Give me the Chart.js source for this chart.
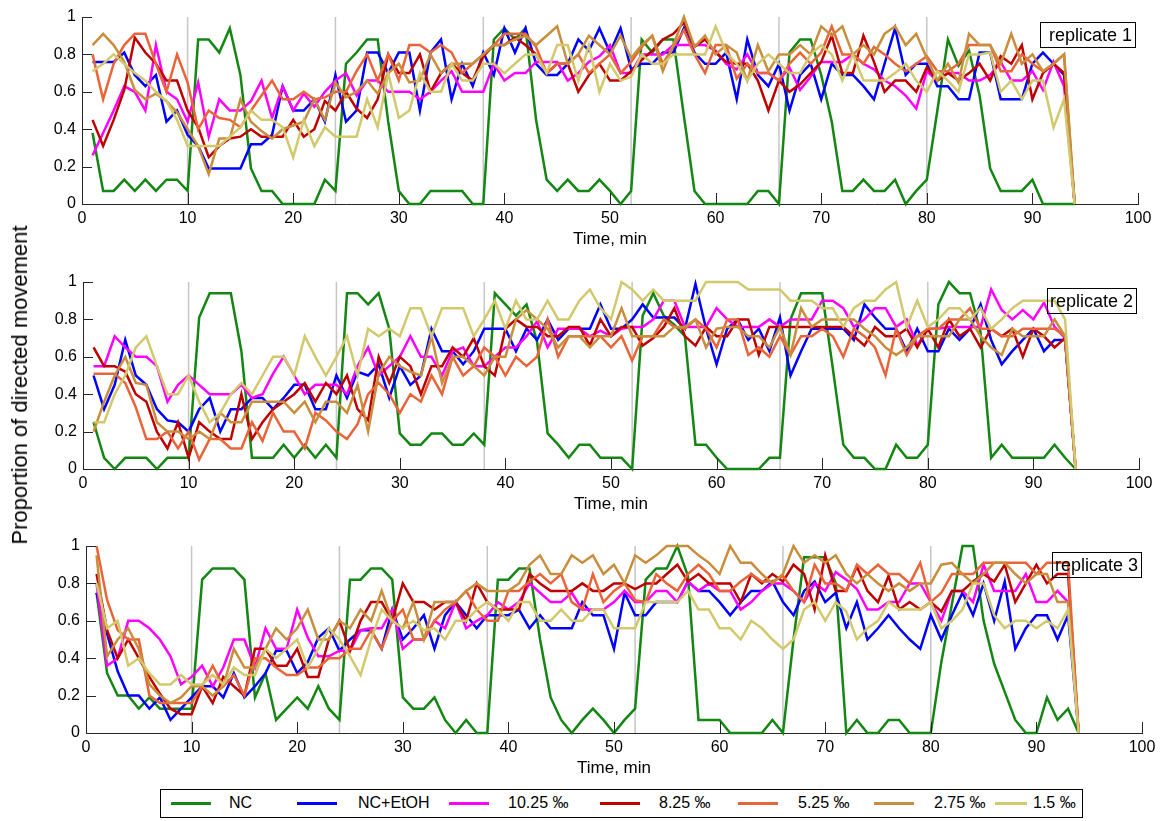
<!DOCTYPE html>
<html>
<head>
<meta charset="utf-8">
<script src="https://cdn.jsdelivr.net/npm/chart.js@4.4.0/dist/chart.umd.min.js"></script>
<style>
    body { margin: 0; background: #fff; width: 1164px; height: 821px; position: relative; overflow: hidden;
           font-family: "Liberation Sans", Arial, sans-serif; color: #000; }
    canvas { position: absolute; left: 0; }
    .rep { position: absolute; border: 1px solid #000; font-size: 18px; line-height: 24px; height: 24px; white-space: nowrap; }
    #ylab { position: absolute; left: 20px; top: 385px; transform: translate(-50%, -50%) rotate(-90deg);
            font-size: 22px; white-space: nowrap; }
    #legend { position: absolute; left: 160px; top: 789px; width: 921px; height: 27px; border: 1px solid #000; background: #fff; }
    .lg-line { position: absolute; top: 12px; height: 3px; }
    .lg-text { position: absolute; top: 4px; font-size: 16px; white-space: nowrap; }
</style>
</head>
<body>
<canvas id="rep1" width="1164" height="250" style="top:0px"></canvas>
<canvas id="rep2" width="1164" height="250" style="top:265px"></canvas>
<canvas id="rep3" width="1164" height="250" style="top:529px"></canvas>
<div class="rep" style="left:1040px; top:22px; width:94px; padding-left:0; text-indent:8px;">replicate 1</div>
<div class="rep" style="left:1047px; top:288px; width:88px; text-indent:2px;">replicate 2</div>
<div class="rep" style="left:1052px; top:552px; width:88px; text-indent:2px;">replicate 3</div>
<div id="ylab">Proportion of directed movement</div>
<div id="legend"></div>
<script>
// Séries e rótulos
const seriesNames = ['NC', 'NC+EtOH', '10.25 ‰', '8.25 ‰', '5.25 ‰', '2.75 ‰', '1.5 ‰'];
const seriesColors = ['#138613', '#0000ff', '#ff00ff', '#bf0000', '#ea6439', '#c88e3c', '#d2c86c'];
const xTicks = [0, 10, 20, 30, 40, 50, 60, 70, 80, 90, 100];
const yTicks = [0, 0.2, 0.4, 0.6, 0.8, 1];
const yTickLabels = ['0', '0.2', '0.4', '0.6', '0.8', '1'];
const stimulusMarks = [10, 24, 38, 52, 66, 80];
const minutes = Array.from({length: 94}, (_, i) => i + 1);

// replicate 1
const rep1NC = [
    .38,.07,.07,.13,.07,.13,.07,.13,.13,.07, .88,.88,.81,.94,.69,.19,.07,.07,0,0,
    0,0,.13,.07,.75,.81,.88,.88,.44,.07, 0,0,.07,.07,.07,.07,0,0,.88,.94,
    .88,.94,.45,.13,.07,.13,.07,.07,.13,.07, 0,.07,.88,.81,.88,.88,.47,.07,0,0,
    0,0,0,.07,.07,0,.81,.88,.88,.69, .44,.07,.07,.13,.07,.07,.13,0,.07,.13,
    .5,.88,.74,.82,.58,.19,.07,.07,.07,.13, 0,0,0,0];
const rep1EtOH = [
    .76,.76,.76,.81,.69,.63,.69,.44,.5,.37, .31,.19,.19,.19,.19,.32,.32,.37,.63,.5,
    .5,.56,.44,.69,.44,.5,.81,.81,.7,.81, .81,.5,.81,.88,.56,.75,.63,.81,.69,.94,
    .81,.94,.75,.69,.69,.75,.88,.82,.94,.81, .94,.72,.75,.75,.81,.81,.94,.81,.75,.75,
    .81,.56,.88,.69,.63,.75,.5,.69,.75,.56, .75,.69,.69,.63,.56,.75,.94,.69,.75,.75,
    .63,.63,.56,.56,.81,.81,.56,.56,.56,.75, .81,.75,.69,0];
const rep1C1025 = [
    .26,.38,.5,.63,.6,.5,.85,.6,.56,.44, .65,.36,.56,.5,.5,.55,.66,.46,.63,.5,
    .59,.52,.6,.66,.7,.58,.66,.66,.6,.6, .6,.56,.6,.66,.71,.6,.6,.6,.75,.66,
    .7,.7,.76,.76,.76,.66,.7,.76,.79,.85, .7,.7,.8,.8,.8,.85,.85,.85,.85,.82,
    .75,.72,.8,.7,.7,.66,.73,.61,.68,.76, .76,.76,.8,.75,.72,.66,.63,.58,.51,.71,
    .66,.7,.7,.66,.66,.69,.76,.66,.66,.71, .61,.76,.63,0];
const rep1C825 = [
    .45,.31,.45,.61,.89,.81,.75,.66,.66,.5, .41,.25,.31,.35,.36,.4,.36,.36,.36,.45,
    .36,.4,.55,.5,.6,.51,.46,.56,.8,.7, .7,.8,.6,.7,.75,.7,.66,.79,.85,.85,
    .89,.85,.8,.7,.75,.75,.6,.69,.75,.66, .66,.71,.77,.82,.88,.91,.97,.84,.88,.81,
    .76,.75,.75,.66,.5,.66,.6,.64,.7,.76, .9,.7,.7,.9,.76,.6,.66,.66,.6,.73,
    .66,.7,.66,.7,.75,.66,.79,.75,.85,.56, .7,.75,.7,0];
const rep1C525 = [
    .8,.56,.75,.85,.91,.91,.75,.6,.8,.65, .4,.5,.46,.45,.41,.5,.58,.66,.56,.56,
    .6,.56,.57,.6,.6,.71,.8,.66,.8,.66, .85,.85,.81,.85,.81,.7,.75,.8,.85,.91,
    .91,.91,.84,.7,.75,.75,.8,.7,.75,.8, .7,.76,.84,.9,.75,.84,.93,.8,.7,.85,
    .85,.67,.75,.7,.7,.66,.75,.81,.75,.81, .95,.8,.8,.75,.84,.8,.75,.71,.75,.79,
    .71,.71,.75,.85,.85,.85,.71,.71,.8,.75, .71,.75,.8,0];
const rep1C275 = [
    .85,.91,.85,.76,.61,.56,.59,.55,.49,.4, .31,.16,.35,.35,.56,.44,.39,.35,.4,.42,
    .44,.56,.45,.65,.57,.6,.66,.59,.7,.75, .65,.66,.8,.7,.75,.75,.75,.8,.85,.85,
    .88,.9,.85,.9,.95,.75,.8,.9,.85,.8, .9,.78,.85,.9,.71,.85,1,.84,.9,.8,
    .85,.81,.66,.85,.71,.8,.8,.85,.8,.95, .9,.95,.8,.85,.8,.91,.95,.85,.91,.78,
    .66,.75,.65,.91,.85,.85,.75,.91,.75,.8, .71,.75,.8,0];
const rep1C15 = [
    .71,.75,.8,.75,.7,.66,.6,.55,.45,.31, .31,.31,.31,.36,.41,.5,.45,.45,.41,.25,
    .45,.31,.41,.36,.36,.36,.56,.41,.7,.46, .5,.7,.6,.6,.75,.66,.66,.75,.75,.7,
    .75,.8,.8,.7,.85,.85,.66,.85,.6,.75, .66,.68,.8,.75,.75,.8,.8,.8,.8,.95,
    .81,.75,.66,.75,.8,.75,.7,.7,.8,.85, .8,.66,.8,.66,.66,.66,.7,.75,.66,.6,
    .71,.66,.6,.8,.8,.81,.6,.66,.56,.66, .66,.41,.56,0];

// replicate 2
const rep2NC = [
    .25,.06,0,.06,.06,.06,0,.06,.06,.06, .81,.94,.94,.94,.63,.06,.06,.06,.13,.06,
    .13,.06,.13,.06,.94,.94,.88,.94,.75,.19, .13,.13,.19,.19,.13,.13,.19,.13,.94,.88,
    .82,.88,.68,.19,.13,.06,.13,.13,.06,.06, .06,0,.82,.94,.82,.77,.71,.13,.13,.06,
    0,0,0,0,.06,.06,.8,.94,.94,.94, .54,.13,.06,.06,0,0,.13,.06,.06,.13,
    .88,1,.94,.94,.73,.06,.13,.06,.06,.06, .06,.13,.06,0];
const rep2EtOH = [
    .5,.32,.45,.69,.5,.45,.32,.26,.25,.2, .32,.38,.2,.32,.32,.38,.38,.32,.38,.45,
    .45,.32,.32,.5,.38,.52,.5,.56,.38,.55, .45,.5,.75,.63,.63,.56,.63,.75,.75,.75,
    .63,.75,.69,.8,.69,.75,.75,.75,.88,.75, .75,.8,.88,.81,.81,.81,.75,.99,.75,.56,
    .75,.8,.69,.75,.63,.81,.5,.63,.75,.75, .75,.75,.69,.88,.81,.75,.75,.63,.75,.63,
    .63,.75,.69,.75,.88,.69,.56,.63,.69,.75, .63,.69,.69,0];
const rep2C1025 = [
    .55,.55,.71,.65,.6,.6,.55,.36,.45,.5, .45,.4,.4,.4,.45,.38,.4,.51,.6,.5,
    .4,.45,.45,.45,.4,.55,.65,.5,.55,.6, .71,.6,.6,.5,.63,.65,.55,.55,.6,.65,
    .65,.71,.79,.65,.75,.75,.75,.71,.74,.71, .75,.76,.76,.8,.9,.9,.76,.76,.76,.86,
    .8,.76,.76,.76,.8,.76,.8,.8,.8,.9, .9,.86,.76,.8,.86,.86,.76,.8,.66,.75,
    .75,.76,.76,.76,.76,.96,.85,.8,.85,.8, .89,.76,.7,0];
const rep2C825 = [
    .65,.55,.55,.52,.4,.36,.2,.11,.25,.06, .25,.2,.16,.16,.4,.16,.25,.32,.36,.4,
    .46,.36,.46,.4,.5,.32,.26,.6,.46,.6, .55,.4,.55,.55,.65,.6,.7,.55,.5,.75,
    .8,.76,.76,.71,.71,.76,.76,.66,.8,.71, .76,.76,.66,.7,.76,.86,.71,.66,.76,.71,
    .71,.8,.8,.61,.76,.76,.76,.76,.76,.76, .76,.76,.71,.66,.76,.71,.71,.75,.65,.75,
    .65,.8,.71,.75,.65,.75,.71,.75,.6,.75, .71,.65,.7,0];
const rep2C525 = [
    .51,.51,.51,.46,.33,.16,.16,.2,.11,.2, .05,.16,.16,.11,.11,.25,.15,.3,.2,.2,
    .11,.3,.26,.2,.16,.24,.4,.46,.4,.3, .4,.36,.5,.4,.6,.5,.55,.65,.6,.5,
    .6,.55,.6,.8,.6,.71,.71,.71,.71,.65, .71,.58,.71,.71,.8,.76,.75,.8,.75,.65,
    .8,.8,.61,.65,.6,.71,.61,.71,.71,.75, .71,.6,.75,.71,.65,.5,.75,.61,.71,.75,
    .75,.8,.8,.86,.75,.75,.71,.71,.75,.75, .75,.75,.71,0];
const rep2C275 = [
    .2,.36,.5,.6,.46,.45,.25,.2,.2,.16, .2,.16,.3,.25,.25,.36,.36,.36,.36,.3,
    .36,.25,.36,.36,.3,.45,.2,.51,.6,.55, .52,.5,.71,.46,.6,.6,.55,.5,.6,.6,
    .8,.85,.8,.75,.65,.71,.71,.65,.71,.71, .86,.71,.71,.71,.71,.76,.76,.8,.65,.75,
    .76,.76,.71,.71,.65,.76,.61,.86,.76,.8, .8,.8,.8,.75,.71,.65,.61,.65,.71,.71,
    .71,.71,.8,.8,.71,.65,.61,.75,.71,.71, .71,.8,.71,0];
const rep2C15 = [
    .25,.25,.4,.5,.65,.71,.55,.4,.4,.5, .36,.25,.3,.4,.46,.4,.5,.6,.6,.5,
    .71,.6,.5,.6,.71,.5,.75,.71,.75,.71, .86,.86,.71,.86,.86,.86,.71,.8,.9,.75,
    .9,.8,.8,.9,.8,.8,.9,.96,.86,.8, 1,.96,.9,.96,.9,.9,.9,.9,1,1,
    1,1,.96,.96,.96,.96,.9,.9,.9,.86, .86,.76,.86,.9,.9,.96,1,.76,.9,.76,
    .8,.86,.86,.8,.86,.75,.8,.86,.9,.9, .9,.9,.8,0];

// replicate 3
const rep3NC = [
    .75,.32,.2,.2,.13,.19,.13,.13,.13,.13, .82,.88,.88,.88,.82,.19,.32,.07,.13,.19,
    .13,.25,.13,.07,.82,.82,.88,.88,.82,.19, .13,.13,.19,.07,0,.07,0,0,.82,.82,
    .88,.88,.5,.19,.07,0,.07,.13,.07,0, .07,.13,.82,.88,.88,1,.84,.07,.07,.07,
    0,0,0,0,.07,0,.5,.94,.94,.94, .8,0,.07,0,0,.07,.07,0,0,0,
    .38,.69,1,1,.6,.37,.22,.07,0,0, .19,.07,.13,0];
const rep3EtOH = [
    .75,.53,.33,.2,.2,.13,.19,.07,.13,.19, .25,.25,.19,.32,.19,.25,.32,.44,.44,.32,
    .38,.51,.56,.44,.5,.55,.55,.45,.66,.5, .56,.63,.45,.63,.7,.63,.56,.63,.63,.63,
    .66,.56,.63,.56,.56,.56,.7,.63,.63,.45, .75,.63,.63,.7,.7,.7,.81,.76,.76,.7,
    .63,.7,.76,.76,.81,.7,.63,.76,.81,.7, .75,.56,.7,.5,.56,.63,.56,.5,.45,.63,
    .5,.63,.75,.63,.8,.6,.81,.45,.56,.63, .63,.5,.63,0];
const rep3C1025 = [
    .8,.36,.4,.6,.6,.56,.5,.41,.26,.3, .36,.25,.35,.5,.5,.35,.56,.45,.45,.66,
    .51,.41,.41,.44,.44,.55,.56,.56,.66,.45, .5,.5,.6,.56,.7,.56,.6,.63,.7,.66,
    .7,.8,.75,.7,.7,.75,.66,.66,.66,.7, .76,.7,.7,.76,.76,.7,.81,.76,.8,.76,
    .76,.66,.7,.76,.8,.8,.76,.7,.8,.76, .86,.82,.77,.66,.66,.7,.7,.8,.8,.7,
    .6,.76,.76,.7,.9,.76,.76,.76,.85,.7, .7,.76,.7,0];
const rep3C825 = [
    .85,.55,.4,.5,.4,.3,.21,.13,.1,.1, .25,.16,.3,.25,.2,.45,.45,.36,.36,.45,
    .3,.3,.5,.6,.44,.6,.7,.7,.6,.8, .7,.7,.66,.7,.7,.6,.8,.7,.66,.66,
    .66,.85,.8,.76,.76,.76,.8,.76,.76,.8, .8,.77,.8,.8,.85,.9,.81,.85,.8,.8,
    .8,.7,.85,.8,.85,.81,.9,.85,.66,.95, .76,.76,.89,.76,.7,.84,.66,.7,.66,.7,
    .65,.76,.76,.81,.85,.81,.9,.7,.8,.9, .8,.85,.85,0];
const rep3C525 = [
    1,.71,.55,.5,.5,.2,.16,.16,.16,.16, .25,.36,.25,.31,.2,.4,.4,.35,.31,.31,
    .35,.35,.4,.4,.45,.45,.55,.45,.6,.66, .5,.5,.6,.66,.7,.76,.66,.6,.6,.76,
    .76,.81,.85,.8,.85,.7,.66,.85,.7,.76, .8,.71,.7,.85,.8,.76,.85,.9,.85,.76,
    .76,.81,.85,.81,.81,.84,.76,.7,.9,.8, .8,.76,.9,.85,.9,.85,.85,.8,.91,.7,
    .75,.85,.85,.85,.91,.91,.91,.91,.91,.85, .91,.91,.91,0];
const rep3C275 = [
    .95,.41,.5,.56,.45,.26,.2,.16,.19,.25, .25,.2,.25,.45,.35,.35,.45,.56,.5,.56,
    .66,.5,.5,.6,.56,.66,.6,.76,.6,.56, .7,.5,.7,.7,.7,.76,.8,.76,.76,.76,
    .8,.9,.95,.85,.85,.95,.91,.95,.85,.9, .8,.95,.91,.95,1,1,1,.95,.91,.85,
    1,.91,.91,.85,.8,.85,1,.91,.95,.91, .95,.85,.8,.85,.8,.76,.8,.76,.8,.8,
    .9,.91,.85,.8,.85,.91,.91,.85,.8,.85, .85,.7,.7,0];
const rep3C15 = [
    .8,.56,.6,.36,.4,.32,.26,.26,.31,.26, .26,.31,.26,.35,.31,.31,.45,.4,.45,.5,
    .35,.45,.56,.5,.41,.31,.5,.66,.6,.56, .6,.55,.56,.5,.6,.6,.66,.7,.66,.6,
    .7,.7,.6,.6,.66,.6,.6,.66,.66,.56, .56,.56,.7,.7,.7,.7,.76,.66,.66,.56,
    .56,.5,.6,.56,.5,.45,.5,.66,.7,.6, .7,.65,.5,.56,.6,.7,.66,.66,.66,.7,
    .56,.6,.66,.8,.8,.63,.56,.6,.6,.56, .6,.56,.66,0];

const replicates = [
    [rep1NC, rep1EtOH, rep1C1025, rep1C825, rep1C525, rep1C275, rep1C15],
    [rep2NC, rep2EtOH, rep2C1025, rep2C825, rep2C525, rep2C275, rep2C15],
    [rep3NC, rep3EtOH, rep3C1025, rep3C825, rep3C525, rep3C275, rep3C15]
];

// Linhas cinzas de estímulo e ticks para dentro (estilo MATLAB)
const axisDecor = {
    id: 'axisDecor',
    beforeDatasetsDraw(chart) {
        const {ctx, chartArea, scales: {x}} = chart;
        ctx.save();
        ctx.strokeStyle = '#c6c6c6';
        ctx.lineWidth = 1.5;
        stimulusMarks.forEach(v => {
            const px = x.getPixelForValue(v);
            ctx.beginPath();
            ctx.moveTo(px, chartArea.top);
            ctx.lineTo(px, chartArea.bottom);
            ctx.stroke();
        });
        ctx.restore();
    },
    afterDraw(chart) {
        const {ctx, chartArea, scales: {x, y}} = chart;
        ctx.save();
        ctx.strokeStyle = '#262626';
        ctx.lineWidth = 1;
        xTicks.forEach(v => {
            const px = Math.round(x.getPixelForValue(v)) + 0.5;
            ctx.beginPath();
            ctx.moveTo(px, chartArea.bottom);
            ctx.lineTo(px, chartArea.bottom - 11);
            ctx.stroke();
        });
        yTicks.forEach(v => {
            const py = Math.round(y.getPixelForValue(v)) + 0.5;
            ctx.beginPath();
            ctx.moveTo(chartArea.left, py);
            ctx.lineTo(chartArea.left + 10, py);
            ctx.stroke();
        });
        ctx.restore();
    }
};

function makePanel(canvasId, values, leftEdge, rightPad) {
    const ctx = document.getElementById(canvasId).getContext('2d');
    const datasets = values.map((vals, i) => ({
        label: seriesNames[i],
        data: vals.map((v, k) => ({x: minutes[k], y: v})),
        borderColor: seriesColors[i],
        borderWidth: 2.5,
        pointRadius: 0,
        tension: 0,
        fill: false,
        clip: false,
        order: seriesNames.length - i
    }));

    return new Chart(ctx, {
        type: 'line',
        data: { datasets: datasets },
        plugins: [axisDecor],
        options: {
            responsive: false,
            animation: false,
            events: [],
            layout: { padding: { left: 0, right: rightPad, top: 17, bottom: 0 } },
            plugins: { legend: { display: false }, tooltip: { enabled: false } },
            scales: {
                x: {
                    type: 'linear',
                    min: 0,
                    max: 100,
                    afterBuildTicks: s => { s.ticks = xTicks.map(v => ({value: v})); },
                    afterFit: s => { s.height = 46; },
                    grid: { display: false, drawTicks: false },
                    border: { display: true, color: '#262626', width: 1 },
                    ticks: {
                        padding: 5,
                        color: '#000',
                        maxRotation: 0,
                        font: { family: '"Liberation Sans", Arial, sans-serif', size: 16 },
                        callback: v => String(v)
                    },
                    title: {
                        display: true,
                        text: 'Time, min',
                        color: '#000',
                        padding: { top: 0, bottom: 0 },
                        font: { family: '"Liberation Sans", Arial, sans-serif', size: 17 }
                    }
                },
                y: {
                    min: 0,
                    max: 1,
                    afterBuildTicks: s => { s.ticks = yTicks.map(v => ({value: v})); },
                    afterFit: s => { s.width = leftEdge; },
                    grid: { display: false, drawTicks: false },
                    border: { display: true, color: '#262626', width: 1 },
                    ticks: {
                        padding: 6,
                        color: '#000',
                        font: { family: '"Liberation Sans", Arial, sans-serif', size: 16 },
                        callback: (v, i) => yTickLabels[i]
                    }
                }
            }
        }
    });
}

document.addEventListener('DOMContentLoaded', function() {
    makePanel('rep1', replicates[0], 82, 26);
    makePanel('rep2', replicates[1], 83, 25);
    makePanel('rep3', replicates[2], 86, 22);

    // Legenda (HTML, a partir dos mesmos nomes e cores)
    const legendLineX = [10, 136, 288, 439, 577, 713, 834];
    const legendLineW = [40, 40, 40, 40, 40, 40, 32];
    const legendTextX = [68, 197, 347, 498, 637, 773, 872];
    const legend = document.getElementById('legend');
    seriesNames.forEach((name, i) => {
        const line = document.createElement('div');
        line.className = 'lg-line';
        line.style.left = legendLineX[i] + 'px';
        line.style.width = legendLineW[i] + 'px';
        line.style.background = seriesColors[i];
        legend.appendChild(line);
        const txt = document.createElement('div');
        txt.className = 'lg-text';
        txt.style.left = legendTextX[i] + 'px';
        txt.textContent = name;
        legend.appendChild(txt);
    });
});
</script>
</body>
</html>
